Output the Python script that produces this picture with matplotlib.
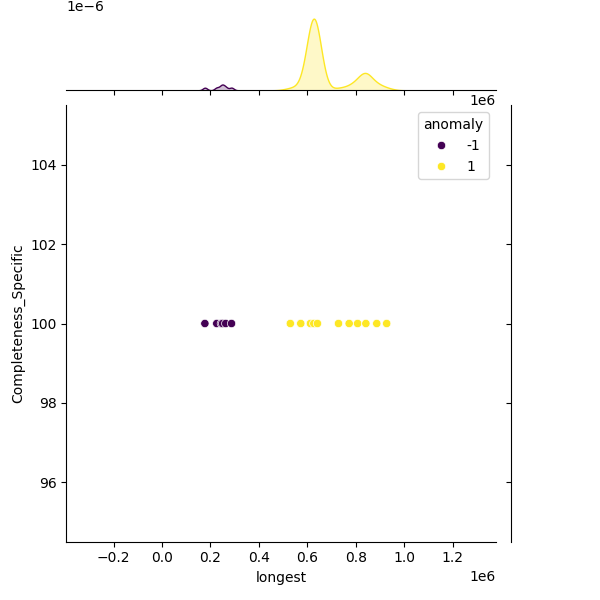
import matplotlib
matplotlib.use("Agg")
import matplotlib.pyplot as plt
import seaborn as sns
import pandas as pd

longest_neg = [177000, 226000, 245000, 250000, 263000, 287000]
longest_pos = [530000, 573000, 613000, 627000, 642000, 729000, 773000, 808000, 842000, 887000, 928000]
# estimated number of overlapping records at each plotted position
count_neg = [1, 1, 1, 1, 1, 1]
count_pos = [2, 3, 25, 40, 25, 2, 3, 6, 16, 5, 2]
completeness = 100

df = pd.DataFrame({
    "longest": longest_neg + longest_pos,
    "Completeness_Specific": [completeness] * (len(longest_neg) + len(longest_pos)),
    "anomaly": [-1] * len(longest_neg) + [1] * len(longest_pos),
    "count": count_neg + count_pos,
})

g = sns.jointplot(data=df, x="longest", y="Completeness_Specific", hue="anomaly",
                  palette="viridis", height=6)
mx = g.ax_marg_x
for artist in list(mx.collections) + list(mx.lines):
    artist.remove()
sns.kdeplot(data=df, x="longest", hue="anomaly", weights="count", palette="viridis",
            fill=True, bw_adjust=0.35, legend=False, ax=mx)
mx.set_xlabel("")
mx.set_ylabel("")
mx.relim()
mx.autoscale_view()
mx.set_ylim(0, None)
g.ax_joint.set_xlim(-0.395e6, 1.38e6)
g.figure.savefig("out.png", dpi=100)
